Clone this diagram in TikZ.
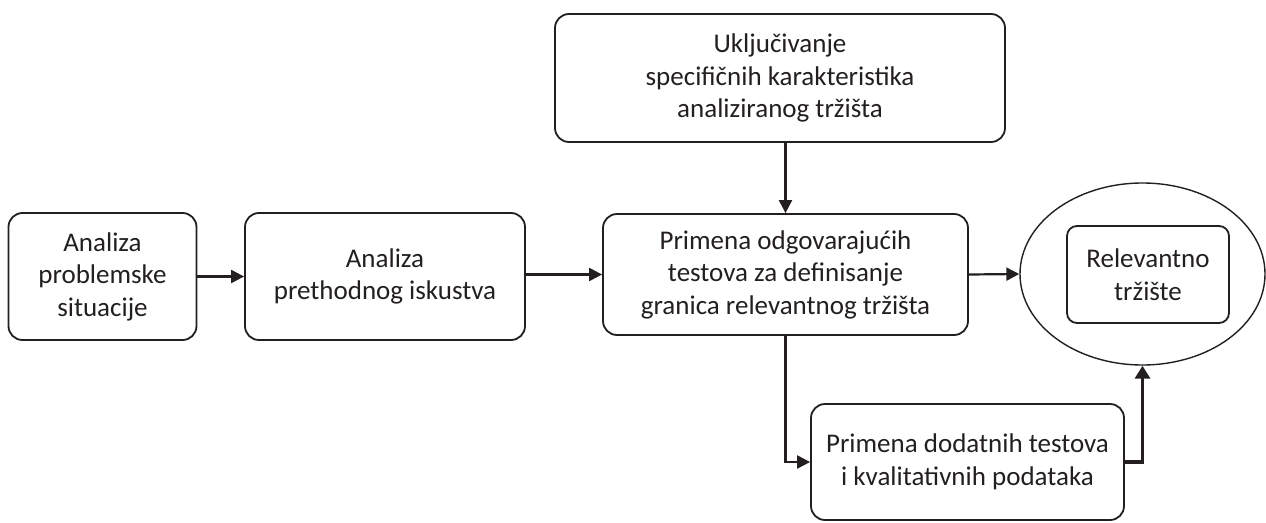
\documentclass[tikz,border=0pt]{standalone}
\usepackage{fontspec}
\setmainfont{Carlito}
\usetikzlibrary{arrows.meta,shapes.geometric}
\definecolor{ink}{HTML}{231F20}
\begin{document}
\begin{tikzpicture}[x=1pt,y=-1pt,
  box/.style={draw=ink, text=ink, line width=1.8pt, rounded corners=14pt, align=center, inner sep=0pt,
    font=\fontsize{27}{32.5}\selectfont},
  oval/.style={draw=ink, ellipse, line width=1.4pt, inner sep=0pt},
  arr/.style={draw=ink, line width=2.2pt, -{Triangle[length=13pt,width=13pt]}},
  thickarr/.style={draw=ink, line width=3.6pt, -{Triangle[length=13pt,width=15pt]}}]
\useasboundingbox (0,0) rectangle (1266,522);
\node[box, minimum width=188pt, minimum height=127pt] (a) at (102.5,276.5) {Analiza\\problemske\\situacije};
\node[box, minimum width=280pt, minimum height=127pt] (b) at (385,276.5) {Analiza\\prethodnog iskustva};
\node[box, minimum width=365pt, minimum height=121pt] (c) at (785.5,274.5) {Primena odgovarajućih\\testova za definisanje\\granica relevantnog tržišta};
\node[box, minimum width=450pt, minimum height=128pt] (t) at (780,78) {Uključivanje\\specifičnih karakteristika\\analiziranog tržišta};
\node[oval, minimum width=245pt, minimum height=182pt] (e) at (1142.5,274) {};
\node[box, rounded corners=10pt, minimum width=162pt, minimum height=97pt] (r) at (1148,274.5) {Relevantno\\tržište};
\node[box, minimum width=313pt, minimum height=116pt] (d) at (967.5,462) {Primena dodatnih testova\\i kvalitativnih podataka};
\draw[arr] (a.east) -- (b.west);
\draw[arr] (b.east |- c.west) -- (c.west);
\draw[arr] (c.east) -- (e.west);
\draw[arr] (c.north |- t.south) -- (c.north);
\draw[arr] (c.south) |- (d.west);
\draw[thickarr] (d.east) -| (e.south);
\end{tikzpicture}
\end{document}
